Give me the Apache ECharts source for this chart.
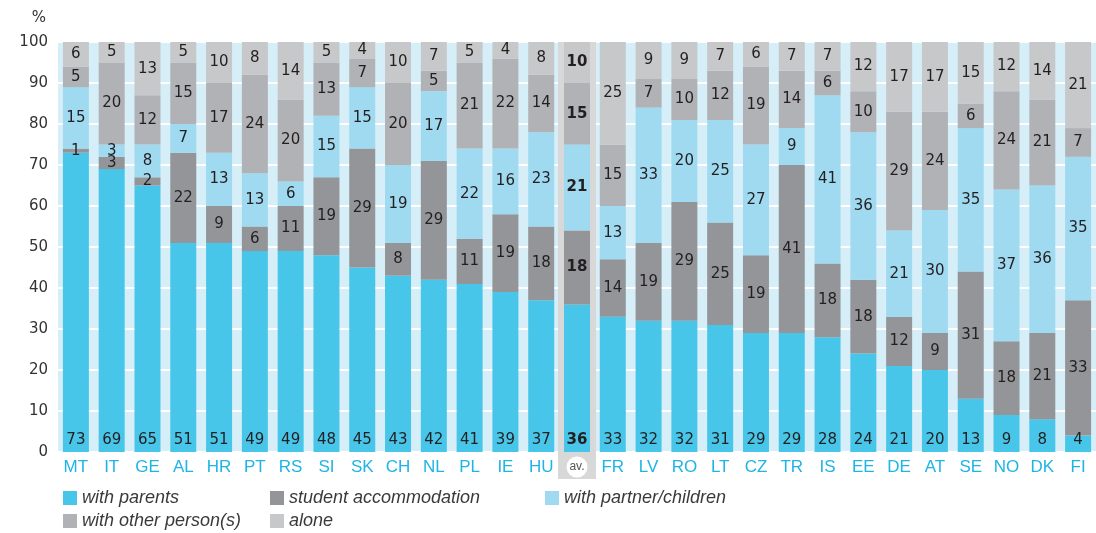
<!DOCTYPE html>
<html>
<head>
<meta charset="utf-8">
<script src="https://cdn.jsdelivr.net/npm/echarts@6/dist/echarts.min.js"></script>
<style>
  html, body { margin: 0; padding: 0; background: #fff; }
  #chart { width: 1096px; height: 533px; }
</style>
</head>
<body>
<div id="chart"></div>
<script>
// categories (av. = average)
const countries = ['MT', 'IT', 'GE', 'AL', 'HR', 'PT', 'RS', 'SI', 'SK', 'CH', 'NL', 'PL', 'IE', 'HU', 'av.',
  'FR', 'LV', 'RO', 'LT', 'CZ', 'TR', 'IS', 'EE', 'DE', 'AT', 'SE', 'NO', 'DK', 'FI']

// shares in %, bottom to top
const withParents = [73, 69, 65, 51, 51, 49, 49, 48, 45, 43, 42, 41, 39, 37, 36, 33, 32, 32, 31, 29, 29, 28, 24, 21, 20, 13, 9, 8, 4]
const studentAccommodation = [1, 3, 2, 22, 9, 6, 11, 19, 29, 8, 29, 11, 19, 18, 18, 14, 19, 29, 25, 19, 41, 18, 18, 12, 9, 31, 18, 21, 33]
const withPartner = [15, 3, 8, 7, 13, 13, 6, 15, 15, 19, 17, 22, 16, 23, 21, 13, 33, 20, 25, 27, 9, 41, 36, 21, 30, 35, 37, 36, 35]
const withOthers = [5, 20, 12, 15, 17, 24, 20, 13, 7, 20, 5, 21, 22, 14, 15, 15, 7, 10, 12, 19, 14, 6, 10, 29, 24, 6, 24, 21, 7]
const alone = [6, 5, 13, 5, 10, 8, 14, 5, 4, 10, 7, 5, 4, 8, 10, 25, 9, 9, 7, 6, 7, 7, 12, 17, 17, 15, 12, 14, 21]

const yTicks = [0, 10, 20, 30, 40, 50, 60, 70, 80, 90, 100]

const avIndex = countries.indexOf('av.')
const numFont = 'DejaVu Sans'
const txtFont = "'Liberation Sans Narrow', 'Liberation Sans', Arial, sans-serif"

// put the average column's labels in bold
function withAvBold (arr) {
  return arr.map((v, i) => i === avIndex
    ? { value: v, label: { fontWeight: 'bold' } }
    : v)
}

function makeSeries (name, arr, color, pos) {
  return {
    name: name,
    type: 'bar',
    stack: 'total',
    barWidth: 26,
    data: withAvBold(arr),
    itemStyle: { color: color },
    label: {
      show: true,
      position: pos,
      distance: 4,
      color: '#231f20',
      fontFamily: numFont,
      fontSize: 15
    },
    emphasis: { disabled: true }
  }
}

const legendText = {
  color: '#3a3a3a',
  fontStyle: 'italic',
  fontFamily: txtFont,
  fontSize: 18
}

// one legend per entry so the two rows line up in columns
function legendItem (left, top, name) {
  return {
    left: left,
    top: top,
    padding: 0,
    itemWidth: 14,
    itemHeight: 14,
    icon: 'rect',
    textStyle: legendText,
    data: [name]
  }
}

const chart = echarts.init(document.getElementById('chart'))

chart.setOption({
  animation: false,
  grid: {
    left: 58,
    width: 1038,
    top: 42,
    bottom: 81,
    show: true,
    backgroundColor: '#d6eef8',
    borderWidth: 0
  },
  legend: [
    legendItem(63, 489, 'with parents'),
    legendItem(270, 489, 'student accommodation'),
    legendItem(545, 489, 'with partner/children'),
    legendItem(63, 512, 'with other person(s)'),
    legendItem(270, 512, 'alone')
  ],
  xAxis: {
    type: 'category',
    data: countries,
    axisLine: { show: false },
    axisTick: { show: false },
    axisLabel: {
      interval: 0,
      margin: 7,
      color: '#1fb4e6',
      fontFamily: txtFont,
      fontSize: 17,
      formatter: v => v === 'av.' ? '' : v
    }
  },
  yAxis: {
    type: 'value',
    min: yTicks[0],
    max: yTicks[yTicks.length - 1],
    interval: 10,
    name: '%',
    nameLocation: 'end',
    nameGap: 16,
    nameTextStyle: { color: '#333', fontFamily: numFont, fontSize: 15, align: 'right', padding: [0, 12, 0, 0] },
    axisLine: { show: false },
    axisTick: { show: false },
    axisLabel: {
      margin: 10,
      color: '#333',
      fontFamily: numFont,
      fontSize: 15,
      padding: [0, 0, 9, 0]
    },
    splitLine: { lineStyle: { color: '#ffffff', width: 2 } }
  },
  series: [
    makeSeries('with parents', withParents, '#48c6e9', 'insideBottom'),
    makeSeries('student accommodation', studentAccommodation, '#939598', 'inside'),
    makeSeries('with partner/children', withPartner, '#a0daf0', 'inside'),
    makeSeries('with other person(s)', withOthers, '#b1b2b5', 'inside'),
    makeSeries('alone', alone, '#c7c8ca', 'inside')
  ]
})

// grey band behind the average column, reaching under the axis label
const ax = chart.convertToPixel({ xAxisIndex: 0 }, 'av.')
const yTop = chart.convertToPixel({ yAxisIndex: 0 }, 100)
const yBot = chart.convertToPixel({ yAxisIndex: 0 }, 0)
chart.setOption({
  graphic: [
    {
      type: 'rect', z: 1, silent: true,
      shape: { x: ax - 19, y: yTop, width: 38, height: yBot - yTop + 27 },
      style: { fill: '#d8d8d9' }
    },
    {
      type: 'circle', z: 3, silent: true,
      shape: { cx: ax, cy: yBot + 15, r: 10.5 },
      style: { fill: '#ffffff' }
    },
    {
      type: 'text', z: 4, silent: true,
      x: ax, y: yBot + 15,
      style: { text: 'av.', fill: '#555', font: '12px ' + txtFont, align: 'center', verticalAlign: 'middle' }
    }
  ]
})
</script>
</body>
</html>
